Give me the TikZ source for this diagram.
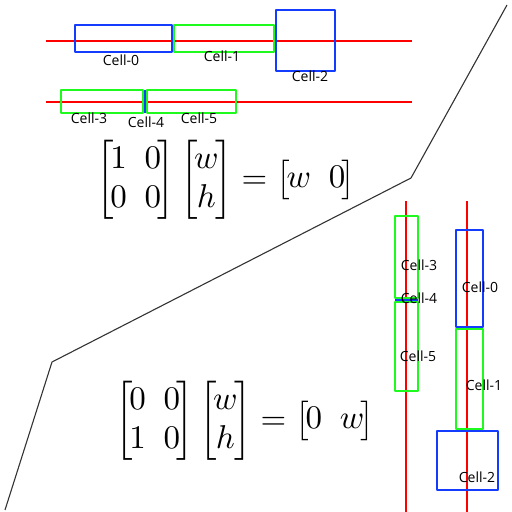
\documentclass[tikz,border=0pt]{standalone}
\usepackage{amsmath}
\usepackage{fontspec}
\newfontfamily\cellfont{Open Sans}
\definecolor{cellblue}{RGB}{20,60,255}
\definecolor{cellgreen}{RGB}{30,250,30}
\definecolor{axisred}{RGB}{255,0,0}
\tikzset{
  axis/.style={axisred, line width=1.6pt},
  cellbox/.style={#1, line width=1.6pt},
  celltext/.style={font=\cellfont\fontsize{14}{14}\selectfont, inner sep=0pt},
  eqn/.style={inner sep=0pt}
}
\newcommand{\bigeqn}[1]{\scalebox{3.3}{\setlength{\arraycolsep}{2.7pt}$#1$}}
\newcommand{\tmat}[1]{\left[\mkern-2mu\begin{matrix}#1\end{matrix}\mkern-2mu\right]}
\begin{document}
\begin{tikzpicture}[x=1pt, y=-1pt, line join=round]
\useasboundingbox (0,0) rectangle (512,512);
\path
(46,41) coordinate (H0a) (412,41) coordinate (H0b)
(46,102) coordinate (H1a) (412,102) coordinate (H1b)
(406,201) coordinate (V0a) (406,512) coordinate (V0b)
(467,201) coordinate (V1a) (467,512) coordinate (V1b)
;
\draw[black!80, line width=1.1pt] (507,5)--(411,178)--(52,362)--(5,510);
\foreach \p in {H0,H1,V0,V1}\draw[axis] (\p a)--(\p b);
\foreach \c/\xa/\ya/\xb/\yb in {cellblue/75/25/172/52, cellgreen/174/25/274/52, cellblue/276/10/335/71,
  cellgreen/61/90/143/113, cellgreen/147/90/236/113,
  cellgreen/395/216/418/298, cellgreen/395/302/418/391,
  cellblue/456/230/483/327, cellgreen/456/329/483/429, cellblue/437/431/498/490}
  \draw[cellbox=\c] (\xa,\ya) rectangle (\xb,\yb);
\draw[cellbox=cellblue] (145,90)--(145,113) (395,300)--(418,300);
\foreach \n/\t/\x/\y in {a0/0/121/60, a1/1/222/56, a2/2/310/76, a3/3/89/118, a4/4/146/122, a5/5/199/118,
  b3/3/419/265, b4/4/419/298, b5/5/418/356, b0/0/480/287, b1/1/484/385, b2/2/477/477}
  \node[celltext] (\n) at (\x,\y) {Cell-\t};
\node[eqn] (rowmap) at (226,180) {\bigeqn{\tmat{1&0\\0&0}\tmat{w\\h}=\tmat{w&0}}};
\node[eqn] (colmap) at (245,421) {\bigeqn{\tmat{0&0\\1&0}\tmat{w\\h}=\tmat{0&w}}};
\end{tikzpicture}
\end{document}
